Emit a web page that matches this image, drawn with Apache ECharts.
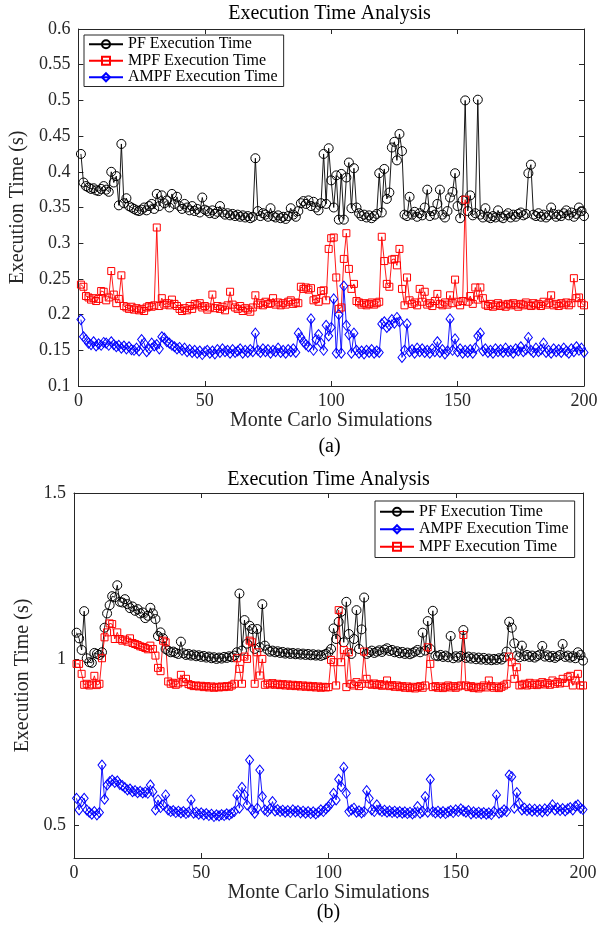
<!DOCTYPE html>
<html>
<head>
<meta charset="utf-8">
<title>Execution Time Analysis</title>
<script src="https://cdn.jsdelivr.net/npm/echarts@6/dist/echarts.min.js"></script>
<style>
  html, body { margin: 0; padding: 0; background: #ffffff; }
  #chart { width: 605px; height: 930px; }
</style>
</head>
<body>
<div id="chart"></div>
<script>
// Execution time per Monte Carlo run (seconds), runs 1..200

// Panel (a)
const pfTimeA = [
  0.425,0.385,0.380,0.378,0.376,0.377,0.374,0.373,0.376,0.380,
  0.375,0.372,0.400,0.385,0.394,0.353,0.439,0.356,0.363,0.352,
  0.350,0.348,0.346,0.345,0.347,0.350,0.346,0.352,0.355,0.348,
  0.369,0.352,0.367,0.356,0.360,0.350,0.369,0.355,0.365,0.352,
  0.348,0.355,0.350,0.346,0.352,0.345,0.348,0.343,0.364,0.347,
  0.345,0.342,0.346,0.341,0.344,0.352,0.343,0.340,0.342,0.339,
  0.341,0.338,0.340,0.337,0.339,0.336,0.338,0.335,0.337,0.419,
  0.345,0.338,0.342,0.340,0.337,0.349,0.338,0.336,0.339,0.335,
  0.337,0.334,0.338,0.349,0.340,0.337,0.345,0.356,0.359,0.355,
  0.360,0.352,0.358,0.350,0.346,0.356,0.425,0.355,0.433,0.388,
  0.350,0.395,0.333,0.397,0.333,0.392,0.413,0.349,0.405,0.350,
  0.342,0.338,0.340,0.336,0.339,0.335,0.338,0.341,0.398,0.343,
  0.404,0.362,0.371,0.434,0.442,0.416,0.453,0.429,0.340,0.338,
  0.365,0.340,0.344,0.337,0.342,0.339,0.350,0.375,0.338,0.345,
  0.340,0.355,0.375,0.340,0.336,0.345,0.364,0.372,0.398,0.352,
  0.335,0.360,0.500,0.345,0.367,0.339,0.342,0.501,0.340,0.336,
  0.349,0.337,0.335,0.338,0.336,0.346,0.337,0.335,0.339,0.342,
  0.336,0.340,0.337,0.341,0.343,0.339,0.341,0.398,0.410,0.340,
  0.338,0.342,0.337,0.340,0.336,0.339,0.350,0.341,0.337,0.340,
  0.338,0.342,0.346,0.339,0.343,0.337,0.341,0.350,0.345,0.338
];
const mpfTimeA = [
  0.242,0.239,0.226,0.224,0.221,0.223,0.219,0.222,0.233,0.232,
  0.220,0.224,0.261,0.228,0.216,0.222,0.255,0.212,0.210,0.208,
  0.211,0.207,0.209,0.206,0.208,0.205,0.210,0.212,0.211,0.213,
  0.322,0.212,0.223,0.214,0.216,0.213,0.221,0.215,0.212,0.208,
  0.205,0.209,0.206,0.212,0.208,0.215,0.213,0.216,0.210,0.212,
  0.207,0.210,0.228,0.209,0.212,0.208,0.211,0.206,0.213,0.232,
  0.214,0.210,0.208,0.212,0.205,0.209,0.207,0.204,0.210,0.227,
  0.214,0.216,0.213,0.218,0.215,0.216,0.223,0.214,0.217,0.213,
  0.216,0.214,0.218,0.220,0.215,0.217,0.216,0.239,0.236,0.238,
  0.235,0.237,0.220,0.222,0.218,0.233,0.234,0.220,0.292,0.307,
  0.308,0.252,0.208,0.210,0.278,0.314,0.264,0.236,0.243,0.219,
  0.217,0.214,0.216,0.213,0.215,0.217,0.214,0.216,0.218,0.309,
  0.275,0.243,0.239,0.277,0.278,0.269,0.292,0.236,0.213,0.252,
  0.220,0.215,0.217,0.213,0.236,0.218,0.232,0.214,0.216,0.212,
  0.219,0.229,0.215,0.213,0.217,0.214,0.227,0.216,0.249,0.218,
  0.213,0.219,0.361,0.218,0.226,0.215,0.238,0.221,0.238,0.223,
  0.214,0.212,0.215,0.211,0.213,0.216,0.212,0.214,0.211,0.215,
  0.213,0.216,0.214,0.211,0.215,0.213,0.217,0.214,0.212,0.216,
  0.213,0.215,0.212,0.218,0.214,0.216,0.227,0.213,0.215,0.212,
  0.216,0.214,0.217,0.213,0.216,0.251,0.223,0.224,0.216,0.213
];
const ampfTimeA = [
  0.193,0.169,0.165,0.160,0.158,0.162,0.156,0.159,0.157,0.161,
  0.160,0.157,0.162,0.158,0.155,0.157,0.153,0.156,0.152,0.155,
  0.151,0.150,0.153,0.149,0.165,0.160,0.148,0.152,0.160,0.156,
  0.158,0.152,0.169,0.167,0.162,0.160,0.157,0.155,0.152,0.154,
  0.150,0.153,0.148,0.151,0.147,0.150,0.146,0.149,0.144,0.148,
  0.150,0.146,0.149,0.145,0.151,0.147,0.152,0.148,0.150,0.146,
  0.151,0.147,0.149,0.152,0.146,0.150,0.147,0.151,0.148,0.174,
  0.150,0.147,0.152,0.148,0.151,0.146,0.150,0.148,0.153,0.147,
  0.150,0.146,0.151,0.148,0.152,0.147,0.174,0.168,0.162,0.158,
  0.155,0.194,0.150,0.165,0.172,0.160,0.150,0.185,0.170,0.182,
  0.222,0.146,0.200,0.146,0.240,0.185,0.172,0.146,0.174,0.150,
  0.146,0.149,0.145,0.150,0.147,0.151,0.146,0.149,0.147,0.187,
  0.190,0.182,0.185,0.193,0.188,0.196,0.190,0.140,0.150,0.187,
  0.148,0.151,0.146,0.153,0.148,0.152,0.147,0.150,0.146,0.152,
  0.148,0.162,0.147,0.151,0.145,0.149,0.194,0.150,0.166,0.148,
  0.152,0.146,0.150,0.147,0.151,0.146,0.153,0.170,0.174,0.149,
  0.152,0.147,0.150,0.146,0.152,0.148,0.151,0.147,0.153,0.148,
  0.150,0.146,0.152,0.149,0.155,0.148,0.151,0.168,0.150,0.147,
  0.153,0.148,0.151,0.160,0.147,0.150,0.146,0.152,0.148,0.151,
  0.147,0.153,0.149,0.146,0.152,0.148,0.155,0.150,0.153,0.147
];

// Panel (b)
const pfTimeB = [
  1.079,1.062,1.027,1.144,1.002,0.990,0.988,1.018,1.015,1.012,
  1.020,1.094,1.137,1.162,1.189,1.186,1.222,1.172,1.170,1.180,
  1.165,1.153,1.158,1.145,1.150,1.137,1.140,1.123,1.130,1.154,
  1.137,1.120,1.069,1.080,1.062,1.030,1.025,1.020,1.022,1.018,
  1.015,1.052,1.017,1.012,1.015,1.010,1.013,1.008,1.011,1.006,
  1.009,1.004,1.007,1.002,1.005,1.000,1.004,1.001,1.006,1.003,
  1.008,1.005,1.010,1.020,1.197,1.025,1.117,1.046,1.100,1.090,
  1.030,1.090,1.035,1.165,1.040,1.028,1.022,1.025,1.020,1.023,
  1.018,1.021,1.016,1.019,1.015,1.018,1.014,1.017,1.013,1.016,
  1.012,1.015,1.011,1.014,1.010,1.013,1.009,1.012,1.015,1.020,
  1.030,1.092,1.060,1.112,1.142,1.050,1.172,1.075,1.015,1.060,
  1.147,1.030,1.089,1.185,1.015,1.020,1.025,1.018,1.022,1.026,
  1.021,1.028,1.032,1.024,1.027,1.020,1.023,1.017,1.021,1.015,
  1.019,1.014,1.018,1.022,1.027,1.020,1.079,1.025,1.114,1.030,
  1.145,1.010,1.008,1.012,1.006,1.010,1.005,1.069,1.002,1.008,
  1.004,1.009,1.087,1.003,1.007,1.001,1.005,0.999,1.004,0.998,
  1.003,0.997,1.001,0.996,1.000,0.997,1.002,0.998,1.005,1.022,
  1.112,1.094,1.047,1.010,1.005,1.040,1.008,1.012,1.006,1.010,
  1.004,1.009,1.013,1.039,1.007,1.011,1.005,1.009,1.003,1.008,
  1.012,1.045,1.006,1.010,1.004,1.008,1.002,1.020,1.012,0.995
];
const ampfTimeB = [
  0.580,0.545,0.570,0.580,0.545,0.538,0.532,0.540,0.530,0.537,
  0.680,0.577,0.620,0.630,0.635,0.628,0.632,0.622,0.618,0.612,
  0.605,0.608,0.600,0.603,0.597,0.601,0.596,0.599,0.595,0.620,
  0.600,0.545,0.575,0.552,0.560,0.590,0.545,0.540,0.543,0.537,
  0.541,0.536,0.540,0.534,0.538,0.575,0.535,0.538,0.532,0.536,
  0.530,0.534,0.528,0.532,0.525,0.530,0.527,0.531,0.528,0.533,
  0.530,0.535,0.540,0.590,0.550,0.613,0.590,0.560,0.695,0.545,
  0.535,0.550,0.665,0.585,0.545,0.540,0.548,0.570,0.542,0.546,
  0.540,0.544,0.538,0.543,0.537,0.545,0.539,0.543,0.536,0.541,
  0.535,0.540,0.534,0.539,0.533,0.538,0.545,0.540,0.548,0.555,
  0.565,0.595,0.575,0.637,0.615,0.673,0.595,0.540,0.545,0.550,
  0.538,0.542,0.536,0.540,0.603,0.580,0.545,0.540,0.560,0.545,
  0.540,0.544,0.538,0.542,0.537,0.541,0.536,0.540,0.535,0.539,
  0.534,0.538,0.533,0.537,0.555,0.535,0.540,0.585,0.538,0.637,
  0.540,0.536,0.541,0.535,0.540,0.534,0.539,0.543,0.537,0.545,
  0.540,0.548,0.542,0.538,0.543,0.533,0.539,0.534,0.538,0.533,
  0.537,0.532,0.536,0.531,0.540,0.590,0.535,0.538,0.545,0.540,
  0.650,0.645,0.550,0.597,0.565,0.545,0.550,0.543,0.548,0.541,
  0.547,0.540,0.546,0.539,0.548,0.542,0.550,0.560,0.545,0.551,
  0.543,0.549,0.542,0.548,0.552,0.545,0.556,0.560,0.550,0.546
];
const mpfTimeB = [
  0.985,0.985,0.955,0.922,0.925,0.920,0.923,0.949,0.921,0.925,
  1.002,1.065,1.080,1.107,1.105,1.060,1.080,1.060,1.055,1.058,
  1.052,1.062,1.048,1.045,1.042,1.038,1.036,1.033,1.029,1.040,
  1.030,1.010,0.973,0.963,1.055,1.050,0.932,0.925,0.928,0.922,
  0.926,0.952,0.930,0.940,0.924,0.921,0.918,0.920,0.917,0.919,
  0.915,0.918,0.914,0.917,0.913,0.916,0.914,0.917,0.915,0.918,
  0.916,0.920,0.925,1.002,0.970,0.925,1.007,1.000,1.055,1.050,
  0.925,1.020,0.950,1.000,0.922,0.926,0.923,0.927,0.922,0.925,
  0.921,0.924,0.920,0.923,0.919,0.922,0.918,0.921,0.917,0.920,
  0.916,0.919,0.915,0.918,0.914,0.917,0.913,0.916,0.914,0.915,
  0.997,0.990,0.920,1.147,0.990,1.027,0.915,1.020,0.925,0.920,
  0.930,0.918,0.925,1.022,0.940,0.925,0.922,0.926,0.921,0.924,
  0.919,0.922,0.935,0.918,0.921,0.916,0.920,0.915,0.918,0.913,
  0.917,0.912,0.916,0.911,0.915,0.918,0.913,0.920,1.035,0.985,
  0.915,0.918,0.913,0.917,0.912,0.916,0.920,0.914,0.918,0.913,
  0.917,0.920,1.072,0.920,0.915,0.918,0.912,0.916,0.911,0.915,
  0.920,0.914,0.935,0.918,0.913,0.917,0.912,0.916,0.920,0.925,
  1.007,0.990,0.940,0.975,0.920,0.922,0.925,0.920,0.928,0.922,
  0.926,0.921,0.925,0.930,0.923,0.927,0.922,0.935,0.925,0.930,
  0.926,0.940,0.928,0.945,0.949,0.920,0.935,0.955,0.920,0.920
];

// Axis ticks
const xTicks = [0, 50, 100, 150, 200];
const yTicksA = [0.1, 0.15, 0.2, 0.25, 0.3, 0.35, 0.4, 0.45, 0.5, 0.55, 0.6];
const yTicksB = [0.5, 1, 1.5];

const FONT = '"Liberation Serif", "Times New Roman", serif';
const INK = '#262626';

// pair each value with its run number (1-based)
const toPoints = arr => arr.map((v, k) => [k + 1, v]);

const chart = echarts.init(document.getElementById('chart'), null, { renderer: 'canvas' });

const grids = [
  { left: 75, top: 29, width: 509, height: 357 },
  { left: 74, top: 493, width: 509, height: 365 }
];

function xAxes(gi, name, gap) {
  const base = {
    gridIndex: gi, type: 'value', min: xTicks[0], max: xTicks[xTicks.length - 1], interval: 50,
    axisLine: { show: true, onZero: false, lineStyle: { color: INK, width: 1 } },
    axisTick: { show: true, inside: true, length: 5, lineStyle: { color: INK, width: 1 } },
    splitLine: { show: false }
  };
  return [
    Object.assign({}, base, {
      position: 'bottom',
      axisLabel: { show: true, color: INK, fontFamily: FONT, fontSize: 18, margin: 6 },
      name: name, nameLocation: 'middle', nameGap: gap,
      nameTextStyle: { color: INK, fontFamily: FONT, fontSize: 20 }
    }),
    Object.assign({}, base, { position: 'top', axisLabel: { show: false } })
  ];
}

function yAxes(gi, min, max, ticks, interval, gap) {
  const tickCfg = { show: true, inside: true, length: 5, lineStyle: { color: INK, width: 1 } };
  const labelCfg = { show: true, color: INK, fontFamily: FONT, fontSize: 18, margin: 8 };
  if (!interval) {
    tickCfg.customValues = ticks;
    labelCfg.customValues = ticks;
  }
  const base = {
    gridIndex: gi, type: 'value', min: min, max: max,
    axisLine: { show: true, onZero: false, lineStyle: { color: INK, width: 1 } },
    splitLine: { show: false }
  };
  if (interval) base.interval = interval;
  return [
    Object.assign({}, base, {
      position: 'left', axisTick: tickCfg, axisLabel: labelCfg,
      name: 'Execution Time (s)', nameLocation: 'middle', nameGap: gap,
      nameTextStyle: { color: INK, fontFamily: FONT, fontSize: 20 }
    }),
    Object.assign({}, base, {
      position: 'right', axisTick: Object.assign({}, tickCfg), axisLabel: { show: false }
    })
  ];
}

function lineSeries(name, values, xi, yi, color, symbol, size) {
  return {
    name: name, type: 'line', xAxisIndex: xi, yAxisIndex: yi,
    data: toPoints(values),
    symbol: symbol, symbolSize: size, showSymbol: true,
    lineStyle: { color: color, width: 0.9 },
    itemStyle: { color: 'rgba(255,255,255,0)', borderColor: color, borderWidth: 1 },
    emphasis: { disabled: true },
    animation: false, z: 2
  };
}

const legendBase = {
  orient: 'vertical',
  itemWidth: 34, itemHeight: 10, itemGap: 0,
  backgroundColor: '#ffffff',
  borderColor: INK, borderWidth: 1, borderRadius: 0,
  padding: [1, 6, 1, 4],
  textStyle: { color: '#000', fontFamily: FONT, fontSize: 16, lineHeight: 16.5 },
  selectedMode: false
};

const option = {
  backgroundColor: '#ffffff',
  animation: false,
  grid: grids.map(g => Object.assign({ show: false }, g)),
  xAxis: [].concat(xAxes(0, 'Monte Carlo Simulations', 24), xAxes(1, 'Monte Carlo Simulations', 21)),
  yAxis: [].concat(yAxes(0, 0.1, 0.6, yTicksA, 0.05, 41), yAxes(1, 0.4, 1.5, yTicksB, null, 34)),
  legend: [
    Object.assign({}, legendBase, {
      left: 84, top: 35,
      data: ['PF Execution Time', 'MPF Execution Time', 'AMPF Execution Time'].map(n => ({ name: n }))
    }),
    Object.assign({}, legendBase, {
      left: 375, top: 501,
      padding: [2, 6, 2, 4],
      textStyle: Object.assign({}, legendBase.textStyle, { lineHeight: 17.5 }),
      data: ['PF Execution Time ', 'AMPF Execution Time ', 'MPF Execution Time '].map(n => ({ name: n })),
      formatter: n => n.trim()
    })
  ],
  series: [
    lineSeries('PF Execution Time', pfTimeA, 0, 0, '#000000', 'circle', 9),
    lineSeries('MPF Execution Time', mpfTimeA, 0, 0, '#ff0000', 'rect', 7),
    lineSeries('AMPF Execution Time', ampfTimeA, 0, 0, '#0000ff', 'diamond', [8, 10]),
    lineSeries('PF Execution Time ', pfTimeB, 2, 2, '#000000', 'circle', 9),
    lineSeries('AMPF Execution Time ', ampfTimeB, 2, 2, '#0000ff', 'diamond', [8, 10]),
    lineSeries('MPF Execution Time ', mpfTimeB, 2, 2, '#ff0000', 'rect', 7)
  ],
  graphic: [
    { type: 'text', x: 329.5, y: 14, style: { text: 'Execution Time Analysis', font: '20px ' + FONT, fill: '#000', textAlign: 'center', textVerticalAlign: 'middle' } },
    { type: 'text', x: 329.5, y: 447, style: { text: '(a)', font: '20px ' + FONT, fill: '#000', textAlign: 'center', textVerticalAlign: 'middle' } },
    { type: 'text', x: 328.5, y: 480, style: { text: 'Execution Time Analysis', font: '20px ' + FONT, fill: '#000', textAlign: 'center', textVerticalAlign: 'middle' } },
    { type: 'text', x: 328.5, y: 913, style: { text: '(b)', font: '20px ' + FONT, fill: '#000', textAlign: 'center', textVerticalAlign: 'middle' } }
  ]
};

chart.setOption(option);
</script>
</body>
</html>
